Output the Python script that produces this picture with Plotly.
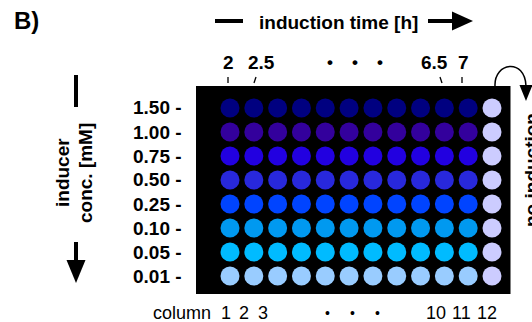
import plotly.graph_objects as go

# ---------------- data ----------------
conc_labels = ["1.50", "1.00", "0.75", "0.50", "0.25", "0.10", "0.05", "0.01"]
columns = list(range(1, 13))
time_labels = ["2", "2.5", "•", "•", "•", "6.5", "7"]
column_labels = ["column", "1", "2", "3", "•", "•", "•", "10", "11", "12"]
row_colors = ["#000080", "#33009c", "#2200e0", "#2828dc", "#0044ff",
              "#0099f0", "#00bbff", "#99ccff"]
control_color = "#ccccff"

# ---------------- geometry helpers (pixel -> paper) ----------------
W, H = 532, 322
def px(x): return x / W
def py(y): return 1 - y / H

# axis ranges so that column 1 -> 230px, column 12 -> 492px, row 1 -> 108px, row 8 -> 276px
sx = (492 - 230) / 11.0
sy = 24.0
x_range = [1 - 230 / sx, 12 + (W - 492) / sx]
y_range = [8 + (H - 276) / sy, 1 - 108 / sy]

fig = go.Figure()

FONT = "Liberation Sans, Arial, Helvetica, sans-serif"

# black plate background
shapes = [dict(type="rect", xref="paper", yref="paper",
               x0=px(196), x1=px(510.5), y0=py(294), y1=py(86),
               fillcolor="black", line=dict(width=0), layer="below")]

for r, (lab, col) in enumerate(zip(conc_labels, row_colors)):
    xs = columns
    cols = [col] * 11 + [control_color]
    fig.add_trace(go.Scatter(x=xs, y=[r + 1] * len(xs), mode="markers",
                             marker=dict(size=19, color=cols, line=dict(width=0)),
                             showlegend=False, hoverinfo="skip"))

def line(x0, y0, x1, y1, w):
    shapes.append(dict(type="line", xref="paper", yref="paper",
                       x0=px(x0), y0=py(y0), x1=px(x1), y1=py(y1),
                       line=dict(color="black", width=w)))

def poly(pts, fill="black", w=0, closed=True):
    d = "M " + " L ".join(f"{px(a):.5f},{py(b):.5f}" for a, b in pts)
    if closed:
        d += " Z"
    shapes.append(dict(type="path", xref="paper", yref="paper", path=d,
                       fillcolor=fill, line=dict(color="black", width=w)))

# top arrow (induction time)
line(215, 21, 243, 21, 4)
line(428, 21, 455, 21, 4)
poly([(452, 11.5), (473, 21), (452, 30.5)])
# left arrow (inducer conc.)
line(76, 75, 76, 107, 4)
line(76, 242, 76, 262, 4)
poly([(66.5, 260), (85.5, 260), (76, 283)])
# tick marks under time labels
line(228, 77, 228, 83, 1.3)
line(256, 77, 254, 83, 1.3)
line(440, 77, 442, 83, 1.3)
line(462, 77, 462, 83, 1.3)
# curved arrow to control column
def cubic(p0, p1, p2, p3):
    return (f"M {px(p0[0]):.5f},{py(p0[1]):.5f} C {px(p1[0]):.5f},{py(p1[1]):.5f} "
            f"{px(p2[0]):.5f},{py(p2[1]):.5f} {px(p3[0]):.5f},{py(p3[1]):.5f}")
shapes.append(dict(type="path", xref="paper", yref="paper",
                   path=cubic((495, 86), (494, 62), (525, 58), (526, 86)),
                   line=dict(color="black", width=1.5)))
poly([(519.5, 85), (532.5, 85), (526, 101)])

ann = []
def text(s, x, y, size, bold=True, angle=0, xanchor="center"):
    ann.append(dict(text=f"<b>{s}</b>" if bold else s, x=px(x), y=py(y),
                    xref="paper", yref="paper", showarrow=False,
                    xanchor=xanchor, yanchor="middle", textangle=angle,
                    font=dict(family=FONT, size=size, color="black")))

text("B)", 26, 21, 24)
text("induction time [h]", 338, 22, 19)
time_x = [228, 261, 330, 355, 380, 434, 463]
for s, x in zip(time_labels, time_x):
    text(s, x, 62, 17 if s == "•" else 19)
for r, lab in enumerate(conc_labels):
    text(lab + " -", 184, 108 + 24 * r, 19, xanchor="right")
text("inducer", 62, 173, 19, angle=-90)
text("conc. [mM]", 85, 173, 19, angle=-90)
text("no induction", 531, 170, 19, angle=-90)
col_x = [182, 226, 244, 263, 327, 352, 377, 436, 461, 487]
for s, x in zip(column_labels, col_x):
    text(s, x, 313, 14 if s == "•" else 18, bold=False)

fig.update_layout(
    width=W, height=H, autosize=False,
    margin=dict(l=0, r=0, t=0, b=0),
    paper_bgcolor="white", plot_bgcolor="rgba(0,0,0,0)",
    xaxis=dict(range=x_range, visible=False, fixedrange=True),
    yaxis=dict(range=y_range, visible=False, fixedrange=True),
    shapes=shapes, annotations=ann,
)

fig.write_html("out.html", config={"displayModeBar": False},
               post_script="document.body.style.margin='0';document.body.style.overflow='hidden';")
